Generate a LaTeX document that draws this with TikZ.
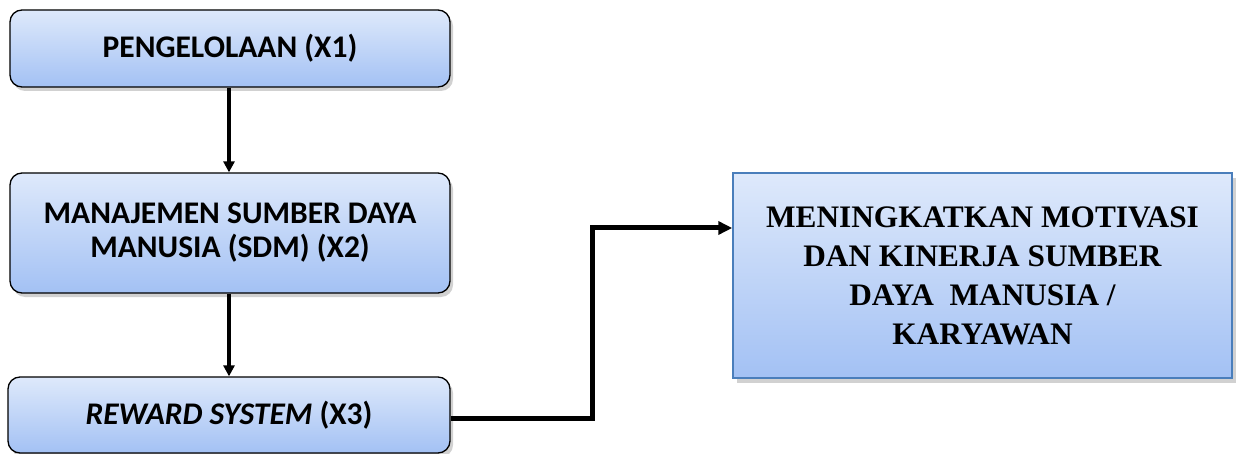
\documentclass[tikz,border=0pt]{standalone}
\usepackage{fontspec}
\setmainfont{Carlito}
\newfontfamily\tnr{Liberation Serif}
\usetikzlibrary{shadows,arrows.meta}
\definecolor{ftop}{HTML}{DEE9FB}
\definecolor{fbot}{HTML}{A3C1F4}
\definecolor{bluebord}{HTML}{4A7EBB}
\begin{document}
\begin{tikzpicture}[x=1pt,y=-1pt,
  rbox/.style={draw=black, line width=1.3pt, rounded corners=12pt,
    top color=ftop, bottom color=fbot, minimum width=440pt, inner sep=0pt,
    align=center, font=\fontsize{31.5}{34}\selectfont\bfseries,
    drop shadow={shadow xshift=3pt, shadow yshift=-4pt, opacity=0.3, fill=black!60}},
  sbox/.style={draw=bluebord, line width=1.5pt, top color=ftop, bottom color=fbot,
    inner sep=0pt, align=center, font=\tnr\fontsize{31.3}{39}\selectfont\bfseries,
    drop shadow={shadow xshift=4pt, shadow yshift=-5pt, opacity=0.3, fill=black!60}},
  arr/.style={line width=3.5pt, -{Triangle[length=11pt,width=11pt]}},
  conn/.style={line width=5pt, -{Triangle[length=14pt,width=13pt]}}
]
\useasboundingbox (0,0) rectangle (1236,454);
\node[rbox, minimum height=77pt] (b1) at (230,48.5) {PENGELOLAAN (X1)};
\node[rbox, minimum height=120pt] (b2) at (230,233) {MANAJEMEN SUMBER DAYA\\MANUSIA (SDM) (X2)};
\node[rbox, minimum height=76pt, minimum width=442pt] (b3) at (229,415) {\textit{REWARD SYSTEM} (X3)};
\node[sbox, minimum width=499pt, minimum height=205pt] (b4) at (982.5,275.5)
  {MENINGKATKAN MOTIVASI\\DAN KINERJA SUMBER\\DAYA\ \ MANUSIA /\\KARYAWAN};
\draw[arr] (b1.south -| 229,0) -- (b2.north -| 229,0);
\draw[arr] (b2.south -| 229,0) -- (b3.north -| 229,0);
\coordinate (c1) at (592,228);
\draw[conn, rounded corners=0pt] (b3.east |- 0,418) -| (c1) -- (c1 -| b4.west);
\end{tikzpicture}
\end{document}
